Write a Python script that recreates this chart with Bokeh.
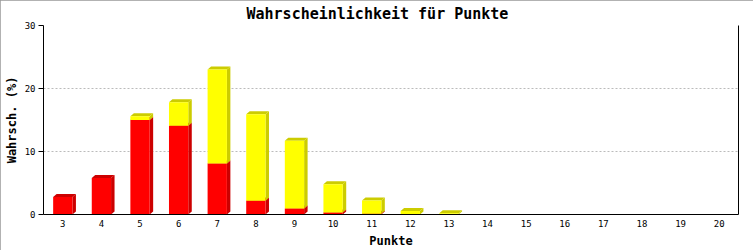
from bokeh.plotting import figure
from bokeh.models import FixedTicker, LinearAxis, Range1d
from bokeh.embed import file_html
from bokeh.resources import INLINE

punkte = [3, 4, 5, 6, 7, 8, 9, 10, 11, 12, 13, 14, 15, 16, 17, 18, 19, 20]
rot = [2.78, 5.8, 15.0, 14.1, 8.1, 2.2, 0.95, 0.3, 0.12, 0, 0, 0, 0, 0, 0, 0, 0, 0]
gelb = [0, 0, 0.6, 3.7, 14.9, 13.7, 10.75, 4.5, 2.1, 0.55, 0.2, 0, 0, 0, 0, 0, 0, 0]
y_ticks = [0, 10, 20, 30]

FONT = "DejaVu Sans Mono"
W = 0.5
DX = 0.09
DY = 0.48

p = figure(width=753, height=250, output_backend="svg", toolbar_location=None,
           x_range=Range1d(2.5, 20.5), y_range=Range1d(0, 30),
           min_border_left=43, min_border_right=15, min_border_top=25, min_border_bottom=36)
p.styles = {"outline": "2px solid #999999", "outline-offset": "-2px"}

p.title.text = "Wahrscheinlichkeit für Punkte"
p.title.align = "left"
p.title.vertical_align = "middle"
p.title.text_font = FONT
p.title.text_font_size = "15px"
p.title.text_font_style = "bold"
p.title.text_color = "black"
p.title.offset = 203
p.title.standoff = 4

p.outline_line_color = None
p.xgrid.grid_line_color = None
p.ygrid.grid_line_color = "#bbbbbb"
p.ygrid.grid_line_dash = "2 2"
p.ygrid.ticker = FixedTicker(ticks=y_ticks)

p.yaxis.ticker = FixedTicker(ticks=y_ticks)
p.yaxis.axis_label = "Wahrsch. (%)"
p.xaxis.ticker = FixedTicker(ticks=punkte)
p.xaxis.axis_label = "Punkte"
for ax in (p.xaxis, p.yaxis):
    ax.axis_line_color = "black"
    ax.major_tick_line_color = "black"
    ax.minor_tick_line_color = None
    ax.major_tick_in = 0
    ax.major_label_text_font = FONT
    ax.major_label_text_font_size = "9px"
    ax.major_label_text_color = "black"
    ax.axis_label_text_font = FONT
    ax.axis_label_text_font_size = "12px"
    ax.axis_label_text_font_style = "bold"
    ax.axis_label_text_color = "black"
p.yaxis.major_tick_out = 5
p.yaxis.major_label_standoff = 3
p.yaxis.axis_label_standoff = 3
p.xaxis.major_tick_out = 0
p.xaxis.major_label_standoff = 5
p.xaxis.axis_label_standoff = 4

right = LinearAxis(ticker=FixedTicker(ticks=[]), axis_line_color="black",
                   major_tick_line_color=None, minor_tick_line_color=None,
                   major_label_text_font_size="0px")
p.add_layout(right, "right")

segments = [(rot, "#ff0000", "#cc0000", 0), (gelb, "#ffff00", "#cccc00", 1)]
for vals, face, dark, idx in segments:
    bottoms = [r if idx == 1 else 0 for r in rot]
    L, R, B, T = [], [], [], []
    sx, sy = [], []
    for x, b, v in zip(punkte, bottoms, vals):
        if v <= 0:
            continue
        t = b + v
        x0, x1 = x - W / 2, x + W / 2
        L.append(x0); R.append(x1); B.append(b); T.append(t)
        sx.append([x1, x1 + DX, x1 + DX, x1])
        sy.append([b, b + DY, t + DY, t])
        sx.append([x0, x0 + DX, x1 + DX, x1])
        sy.append([t, t + DY, t + DY, t])
    p.patches(sx, sy, fill_color=dark, line_color=None)
    p.quad(left=L, right=R, bottom=B, top=T, fill_color=face, line_color=None)

open("out.html", "w").write(file_html(p, INLINE))
